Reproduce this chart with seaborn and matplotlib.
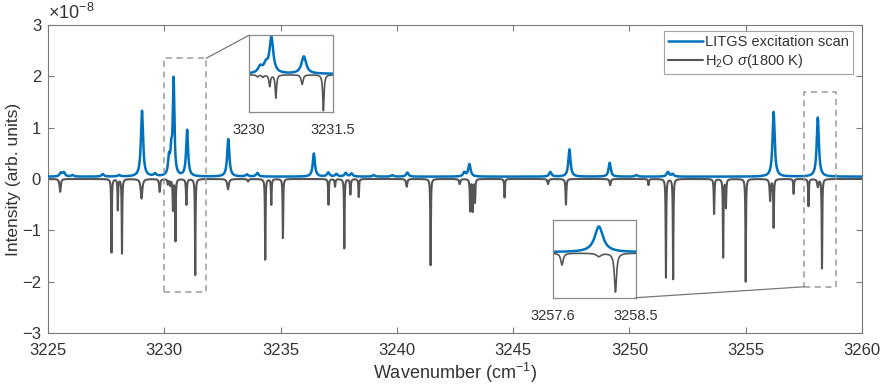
import numpy as np
import pandas as pd
import matplotlib
matplotlib.use("Agg")
import matplotlib.pyplot as plt
import seaborn as sns
from matplotlib.patches import Rectangle, ConnectionPatch

# ---------------- data (intensities in units of 1e-8) ----------------
blue_pos = [3225.55, 3225.68, 3226.05, 3227.35, 3228.05, 3229.04, 3229.6,
            3230.2, 3230.3, 3230.4, 3230.98, 3232.75, 3233.55, 3234.0,
            3236.43, 3237.05, 3237.4, 3237.8, 3238.05, 3239.0, 3239.8,
            3240.45, 3242.9, 3243.12, 3246.6, 3247.42, 3249.15, 3250.3,
            3251.65, 3251.85, 3256.2, 3258.1]
blue_h = [0.07, 0.08, 0.03, 0.05, 0.03, 1.28, 0.05,
          0.33, 0.42, 1.85, 0.9, 0.73, 0.04, 0.07,
          0.45, 0.08, 0.05, 0.07, 0.06, 0.03, 0.03,
          0.08, 0.08, 0.24, 0.09, 0.53, 0.27, 0.03,
          0.09, 0.05, 1.26, 1.15]
blue_w = [0.06, 0.06, 0.06, 0.06, 0.06, 0.055, 0.06,
          0.045, 0.045, 0.04, 0.05, 0.055, 0.06, 0.06,
          0.055, 0.06, 0.06, 0.06, 0.06, 0.06, 0.06,
          0.06, 0.06, 0.06, 0.06, 0.055, 0.055, 0.06,
          0.06, 0.06, 0.055, 0.055]
blue_baseline = 0.045

gray_pos = [3225.52, 3227.73, 3228.0, 3228.18, 3229.02, 3229.8, 3230.15,
            3230.25, 3230.37, 3230.48, 3230.95, 3231.33, 3232.74, 3233.6,
            3234.34, 3234.6, 3235.1, 3237.06, 3237.34, 3237.74, 3238.0,
            3238.36, 3240.42, 3241.45, 3242.7, 3243.15, 3243.26, 3243.36,
            3244.63, 3246.5, 3247.27, 3249.17, 3250.82, 3251.57, 3251.88,
            3253.64, 3254.03, 3254.15, 3255.0, 3256.05, 3256.2, 3257.06,
            3257.7, 3258.1, 3258.28]
gray_h = [-0.25, -1.43, -0.6, -1.45, -0.38, -0.25, -0.1,
          -0.12, -0.6, -1.2, -0.5, -1.87, -0.2, -0.05,
          -1.57, -0.5, -1.15, -0.5, -0.15, -1.35, -0.3,
          -0.35, -0.15, -1.68, -0.1, -0.62, -0.62, -0.45,
          -0.36, -0.1, -0.5, -0.12, -0.12, -1.92, -1.95,
          -0.68, -1.52, -0.55, -2.0, -0.42, -0.94, -0.29,
          -0.53, -0.15, -1.74]
gray_w = [0.03, 0.014, 0.014, 0.014, 0.04, 0.025, 0.02,
          0.02, 0.016, 0.014, 0.02, 0.014, 0.04, 0.03,
          0.014, 0.016, 0.014, 0.016, 0.02, 0.014, 0.02,
          0.016, 0.03, 0.014, 0.03, 0.016, 0.016, 0.016,
          0.016, 0.03, 0.02, 0.03, 0.02, 0.014, 0.014,
          0.016, 0.014, 0.016, 0.014, 0.025, 0.016, 0.016,
          0.016, 0.03, 0.014]

x_ticks = [3225, 3230, 3235, 3240, 3245, 3250, 3255, 3260]
y_ticks = [-3, -2, -1, 0, 1, 2, 3]

inset1_xlim = (3230.0, 3231.5)
inset2_xlim = (3257.6, 3258.5)

# ---------------- build spectra from peak lists ----------------
wn = np.arange(3225.0, 3260.0001, 0.002)

def lorentz_sum(pos, h, w):
    out = np.zeros_like(wn)
    for p, a, g in zip(pos, h, w):
        out += a / (1.0 + ((wn - p) / g) ** 2)
    return out

blue = blue_baseline + lorentz_sum(blue_pos, blue_h, blue_w)
gray = lorentz_sum(gray_pos, gray_h, gray_w)
df = pd.DataFrame({"wn": wn, "blue": blue, "gray": gray})

# ---------------- plotting ----------------
sns.set_theme(style="white")
plt.rcParams["font.family"] = ["Liberation Sans", "DejaVu Sans"]
plt.rcParams["mathtext.fontset"] = "custom"
plt.rcParams["mathtext.rm"] = "Liberation Sans"
plt.rcParams["mathtext.it"] = "Liberation Sans:italic"

BLUE = "#0072BD"
GRAY = "#555555"
TXT = "#333333"
FRAME = "#7a7a7a"

fig = plt.figure(figsize=(8.83, 3.91), dpi=100)
ax = fig.add_axes([0.0544, 0.1483, 0.9218, 0.788])

sns.lineplot(data=df, x="wn", y="gray", ax=ax, color=GRAY, lw=1.5,
             estimator=None, label="H$_2$O $\\sigma$(1800 K)", zorder=2)
sns.lineplot(data=df, x="wn", y="blue", ax=ax, color=BLUE, lw=1.8,
             estimator=None, label="LITGS excitation scan", zorder=3)

ax.set_xlim(3225, 3260)
ax.set_ylim(-3, 3)
ax.set_xticks(x_ticks)
ax.set_yticks(y_ticks)
ax.tick_params(direction="in", length=4, width=0.8, colors=FRAME,
               labelcolor=TXT, labelsize=12, top=True, right=True,
               bottom=True, left=True)
ax.tick_params(axis="x", pad=7)
ax.tick_params(axis="y", pad=5)
for s in ax.spines.values():
    s.set_color(FRAME)
    s.set_linewidth(0.8)
ax.set_xlabel("Wavenumber (cm$^{-1}$)", fontsize=13, color=TXT, labelpad=2)
ax.set_ylabel("Intensity (arb. units)", fontsize=12.5, color=TXT, labelpad=1)
ax.text(0.0, 1.005, "$\\times$10$^{-8}$", transform=ax.transAxes,
        fontsize=13, color=TXT, ha="left", va="bottom")

handles, labels = ax.get_legend_handles_labels()
leg = ax.legend(handles[::-1], labels[::-1], loc="upper right",
                bbox_to_anchor=(0.9887, 0.98), fontsize=10.5, frameon=True,
                fancybox=False, edgecolor="#8a8a8a", handlelength=2.4,
                handletextpad=0.1, borderpad=0.3, labelspacing=0.15,
                borderaxespad=0)
leg.get_frame().set_linewidth(0.8)
for t in leg.get_texts():
    t.set_color(TXT)

# dashed zoom boxes
rect1 = Rectangle((3229.98, -2.2), 1.82, 4.55, fill=False, ls=(0, (4, 3)),
                  ec="#9a9a9a", lw=1.1, zorder=4)
rect2 = Rectangle((3257.5, -2.1), 1.4, 3.8, fill=False, ls=(0, (4, 3)),
                  ec="#9a9a9a", lw=1.1, zorder=4)
ax.add_patch(rect1)
ax.add_patch(rect2)

def make_inset(pos, xlim, ylim):
    ia = fig.add_axes(pos)
    sub = df[(df.wn >= xlim[0]) & (df.wn <= xlim[1])]
    sns.lineplot(data=sub, x="wn", y="gray", ax=ia, color=GRAY, lw=1.2,
                 estimator=None, legend=False)
    sns.lineplot(data=sub, x="wn", y="blue", ax=ia, color=BLUE, lw=1.8,
                 estimator=None, legend=False)
    ia.set_xlim(*xlim)
    ia.set_ylim(*ylim)
    ia.set_xticks(list(xlim))
    ia.set_xticklabels([f"{v:g}" for v in xlim])
    ia.set_yticks([])
    ia.set_xlabel("")
    ia.set_ylabel("")
    ia.tick_params(axis="x", length=0, pad=8, labelsize=10.5, labelcolor=TXT)
    for s in ia.spines.values():
        s.set_color("#8a8a8a")
        s.set_linewidth(0.9)
    ia.set_facecolor("white")
    return ia

in1 = make_inset([0.282, 0.7128, 0.095, 0.197], inset1_xlim, (-1.95, 2.05))
in2 = make_inset([0.626, 0.2386, 0.094, 0.1995], inset2_xlim, (-2.0, 1.5))

con1 = ConnectionPatch(xyA=(3231.8, 2.35), coordsA=ax.transData,
                       xyB=(0, 1), coordsB=in1.transAxes,
                       color="#777777", lw=0.9)
con2 = ConnectionPatch(xyA=(3257.5, -2.1), coordsA=ax.transData,
                       xyB=(1, 0), coordsB=in2.transAxes,
                       color="#777777", lw=0.9)
fig.add_artist(con1)
fig.add_artist(con2)

fig.savefig("out.png", dpi=100)
